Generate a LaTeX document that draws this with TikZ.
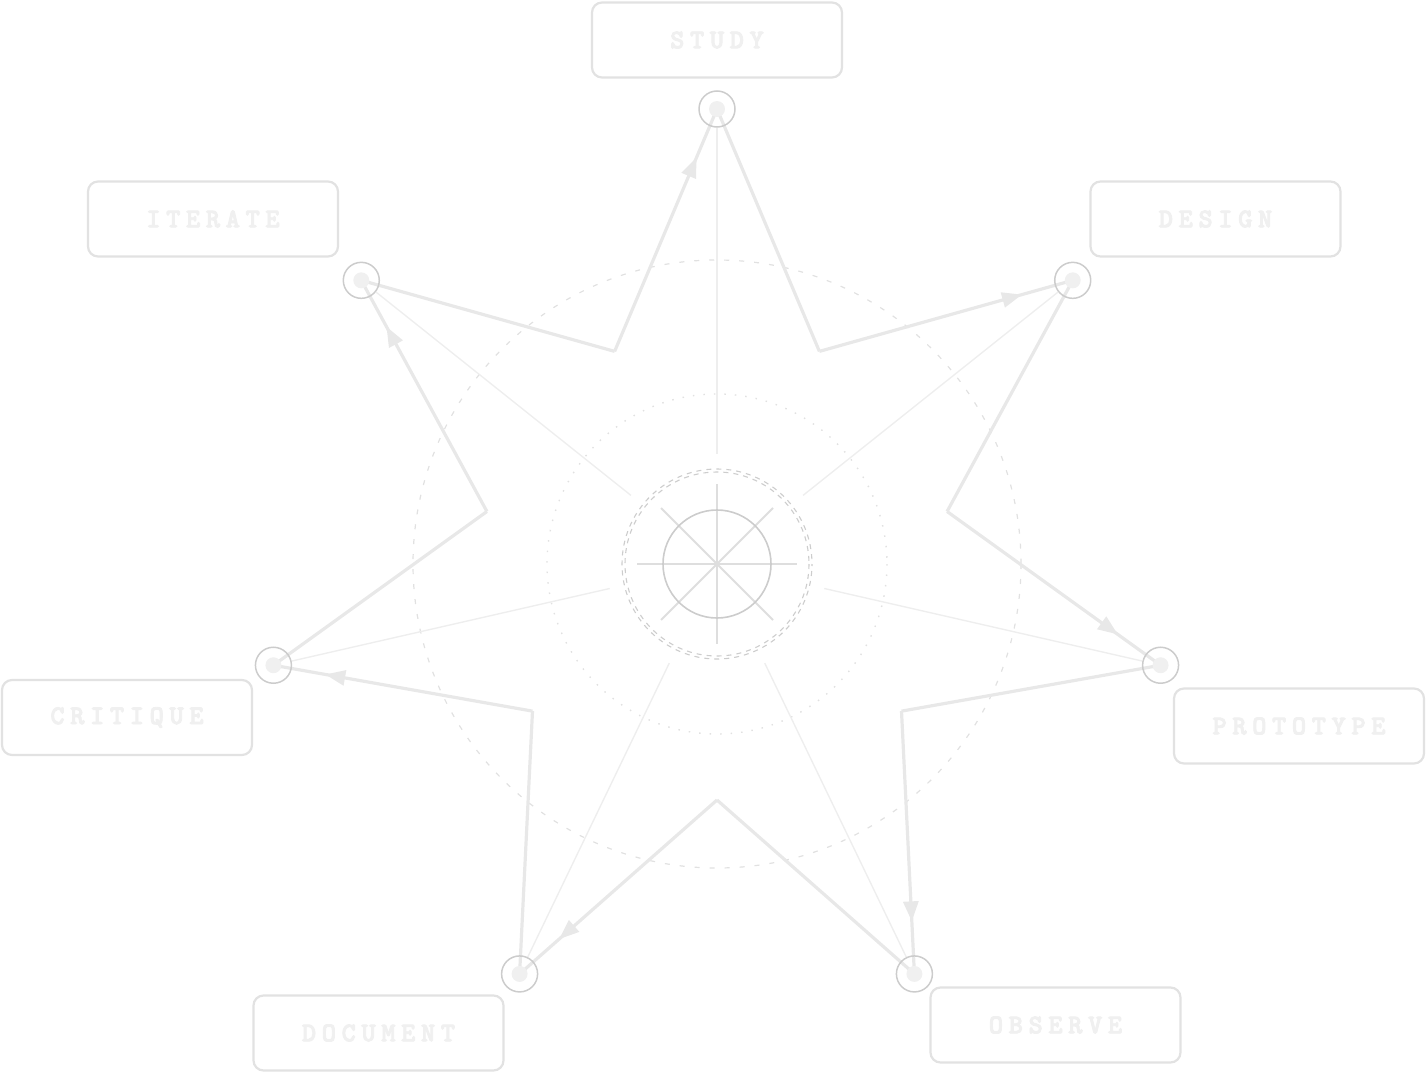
\documentclass[tikz,border=0pt]{standalone}
\usepackage{fontspec}
\newfontfamily\lblfont{lmmonolt10-bold}[Extension=.otf,LetterSpace=21,FakeBold=3]
\usetikzlibrary{arrows.meta,decorations.markings,calc}
\definecolor{starc}{RGB}{232,232,232}
\definecolor{spokec}{RGB}{238,238,238}
\definecolor{ringc}{RGB}{204,204,204}
\definecolor{dotc}{RGB}{240,240,240}
\definecolor{boxc}{RGB}{226,226,226}
\definecolor{txtc}{RGB}{240,240,240}
\definecolor{dashc}{RGB}{225,225,225}
\definecolor{cdashc}{RGB}{205,205,205}
\definecolor{crossc}{RGB}{222,222,222}
\tikzset{
  starline/.style={draw=starc,line width=3.2pt,line join=miter},
  arrowline/.style={starline,postaction={decorate},decoration={markings,
    mark=at position 0.8 with {\arrow{Triangle[length=20pt,width=15pt]}}}},
  spoke/.style={draw=spokec,line width=1.4pt},
  ring/.style={draw=ringc,line width=1.5pt},
  labelbox/.style={draw=boxc,line width=2.2pt,rounded corners=10pt,fill=white,
    minimum width=250pt,minimum height=75pt,inner sep=0pt,
    font=\lblfont\fontsize{27}{30}\selectfont,
    text=txtc},
}
\begin{document}
\begin{tikzpicture}[x=1pt,y=-1pt]
\useasboundingbox (0,0) rectangle (1426,1073);
\coordinate (C) at (717,564);
% background circles
\draw[dashc,line width=1.2pt,dash pattern=on 5pt off 10pt] (C) circle (304);
\draw[dashc,line width=1.4pt,dash pattern=on 1.5pt off 9pt] (C) circle (170);
\draw[cdashc,line width=1.1pt,dash pattern=on 5pt off 5pt] (C) circle (92);
\draw[cdashc,line width=1.1pt,dash pattern=on 5pt off 5pt,dash phase=3pt] (C) circle (95);
% center cross
\draw[crossc,line width=1.8pt] (C) ++(0,-80) -- ++(0,160);
\draw[crossc,line width=1.8pt] (C) ++(-80,0) -- ++(160,0);
\draw[crossc,line width=1.8pt] (C) ++(-56,-56) -- ++(112,112);
\draw[crossc,line width=1.8pt] (C) ++(56,-56) -- ++(-112,112);
\draw[ringc,line width=1.6pt] (C) circle (54);
\fill[crossc] (C) circle (2);
% points
\foreach \k/\n in {0/study,1/design,2/prototype,3/observe,4/document,5/critique,6/iterate}{
  \coordinate (O\n) at ($(C)+({-90+\k*360/7}:455)$);
  \coordinate (I\n) at ($(C)+({-90+\k*360/7+180/7}:236)$);
  \coordinate (SA\n) at ($(C)+({-90+\k*360/7}:110)$);
  \coordinate (SB\n) at ($(C)+({-90+\k*360/7}:436)$);
}
% spokes
\foreach \n in {study,design,prototype,observe,document,critique,iterate}{
  \draw[spoke] (SA\n) -- (SB\n);
}
% star
\draw[starline] (Ostudy) -- (Istudy);
\draw[arrowline] (Istudy) -- (Odesign);
\draw[starline] (Odesign) -- (Idesign);
\draw[arrowline] (Idesign) -- (Oprototype);
\draw[starline] (Oprototype) -- (Iprototype);
\draw[arrowline] (Iprototype) -- (Oobserve);
\draw[starline] (Oobserve) -- (Iobserve);
\draw[arrowline] (Iobserve) -- (Odocument);
\draw[starline] (Odocument) -- (Idocument);
\draw[arrowline] (Idocument) -- (Ocritique);
\draw[starline] (Ocritique) -- (Icritique);
\draw[arrowline] (Icritique) -- (Oiterate);
\draw[starline] (Oiterate) -- (Iiterate);
\draw[arrowline] (Iiterate) -- (Ostudy);
% outer markers
\foreach \n in {study,design,prototype,observe,document,critique,iterate}{
  \fill[dotc] (O\n) circle (8);
  \draw[ring] (O\n) circle (18);
}
% labels
\node[labelbox] (Lstudy) at (717,40) {STUDY};
\node[labelbox] (Ldesign) at (1215.5,219) {DESIGN};
\node[labelbox] (Lprototype) at (1299,726) {PROTOTYPE};
\node[labelbox] (Lobserve) at (1055.5,1025) {OBSERVE};
\node[labelbox] (Ldocument) at (378.5,1033) {DOCUMENT};
\node[labelbox] (Lcritique) at (127,717.5) {CRITIQUE};
\node[labelbox] (Literate) at (213,219) {ITERATE};
\end{tikzpicture}
\end{document}
